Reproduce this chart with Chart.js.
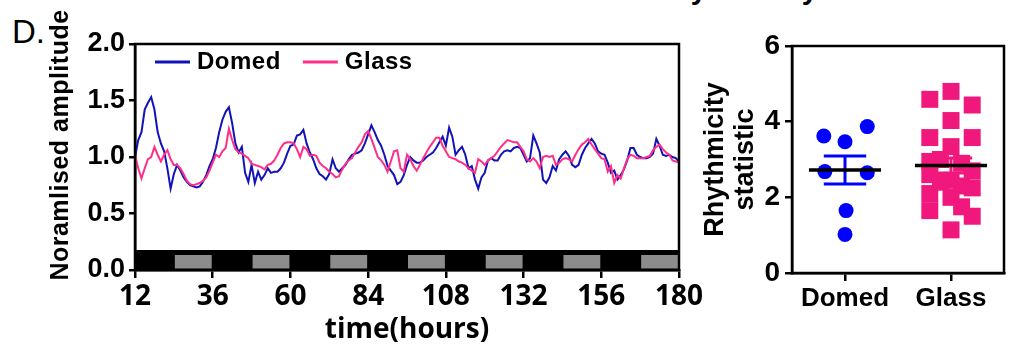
<!DOCTYPE html>
<html>
<head>
<meta charset="utf-8">
<script src="https://cdn.jsdelivr.net/npm/chart.js@4.4.1/dist/chart.umd.min.js"></script>
<style>
    html, body { margin: 0; padding: 0; background: #fff; }
    body { width: 1016px; height: 345px; position: relative; overflow: hidden; font-family: "Liberation Sans", Arial, sans-serif; }
    #left { position: absolute; left: 0; top: 0; width: 720px; height: 345px; }
    #right { position: absolute; left: 690px; top: 0; width: 326px; height: 345px; }
    .panel { position: absolute; left: 12px; top: 15px; font-size: 33px; line-height: 33px; }
    .cut { position: absolute; left: 652px; top: -25px; font-size: 29px; line-height: 29px; font-weight: bold; white-space: nowrap; }
</style>
</head>
<body>
<div class="panel">D.</div>
<div class="cut">Rhythmicity statistic</div>
<div id="left"><canvas id="ampChart"></canvas></div>
<div id="right"><canvas id="rhythmChart"></canvas></div>

<script>
// Dados - painel esquerdo (amplitude normalizada, uma leitura por hora a partir de 12h)
const startHour = 12;
const xTicks = [12, 36, 60, 84, 108, 132, 156, 180];
const seriesNames = ['Domed', 'Glass'];
const domedAmp = [
    1.00, 1.15, 1.22, 1.42, 1.48, 1.53, 1.42, 1.22, 1.12, 1.05, 0.90, 0.72,
    0.85, 0.93, 0.88, 0.82, 0.78, 0.75, 0.74, 0.73, 0.74, 0.78, 0.84, 0.92,
    0.98, 1.08, 1.22, 1.33, 1.40, 1.44, 1.30, 1.12, 1.04, 1.09, 0.86, 0.78,
    0.93, 0.77, 0.87, 0.80, 0.84, 0.90, 0.86, 0.87, 0.87, 0.90, 0.95, 1.03,
    1.10, 1.11, 1.19, 1.20, 1.24, 1.12, 1.04, 0.98, 0.90, 0.85, 0.83, 0.80,
    0.85, 0.98, 0.90, 0.87, 0.90, 0.93, 0.98, 1.02, 1.03, 1.04, 1.06, 1.12,
    1.20, 1.28, 1.22, 1.15, 1.10, 1.02, 0.92, 0.88, 0.84, 0.76, 0.78, 0.84,
    0.93, 1.00, 0.97, 0.95, 0.95, 0.97, 1.00, 1.02, 1.04, 1.08, 1.13, 1.18,
    1.10, 1.26, 1.18, 1.02, 1.06, 1.09, 1.02, 0.90, 0.92, 0.80, 0.72, 0.82,
    0.86, 0.97, 0.99, 0.97, 0.97, 1.02, 1.05, 1.06, 1.05, 1.08, 1.09, 1.08,
    1.02, 0.96, 0.99, 1.19, 1.12, 1.04, 0.80, 0.77, 0.82, 0.92, 0.88, 0.98,
    1.02, 1.05, 1.01, 0.93, 0.91, 0.93, 1.02, 1.08, 1.12, 1.16, 1.12, 1.05,
    1.03, 1.02, 0.95, 0.86, 0.88, 0.80, 0.84, 0.89, 0.97, 1.08, 1.08, 1.02,
    1.00, 0.99, 0.99, 1.00, 1.03, 1.16, 1.10, 1.02, 1.01, 1.02, 1.00, 0.99,
    0.96
];
const glassAmp = [
    1.02, 0.90, 0.81, 0.90, 0.98, 1.00, 1.09, 1.02, 0.96, 1.02, 1.06, 0.98,
    0.93, 0.93, 0.90, 0.85, 0.79, 0.76, 0.75, 0.76, 0.77, 0.79, 0.82, 0.88,
    0.95, 1.02, 1.00, 1.05, 1.08, 1.25, 1.15, 1.07, 1.04, 1.03, 1.01, 0.99,
    0.94, 0.93, 0.92, 0.91, 0.89, 0.93, 0.94, 0.97, 1.02, 1.08, 1.12, 1.13,
    1.13, 1.12, 1.07, 1.00, 1.09, 1.07, 1.01, 1.02, 1.01, 0.95, 0.92, 0.90,
    0.87, 0.85, 0.82, 0.83, 0.89, 0.94, 0.97, 0.99, 1.04, 1.09, 1.13, 1.20,
    1.23, 1.16, 1.08, 1.00, 0.97, 0.93, 0.87, 0.96, 1.05, 1.06, 0.90, 0.87,
    1.02, 0.98, 0.92, 0.88, 0.93, 0.99, 1.04, 1.09, 1.13, 1.17, 1.17, 1.10,
    1.05, 1.00, 0.99, 0.98, 0.96, 0.95, 0.93, 0.90, 0.88, 0.86, 0.98, 0.96,
    0.93, 0.97, 0.99, 1.01, 1.05, 1.09, 1.12, 1.15, 1.14, 1.13, 1.13, 1.09,
    1.05, 0.98, 0.96, 0.99, 0.96, 0.90, 1.00, 1.01, 1.00, 1.01, 0.93, 0.95,
    0.98, 0.99, 0.98, 0.96, 1.02, 1.07, 1.11, 1.13, 1.16, 1.11, 1.07, 1.03,
    0.99, 0.98, 0.87, 0.92, 0.77, 0.84, 0.81, 0.90, 0.98, 1.02, 1.01, 0.99,
    0.99, 0.99, 1.00, 1.01, 1.06, 1.09, 1.11, 1.07, 1.04, 1.02, 0.97, 0.96,
    0.95
];
// fases de luz (cinza) na barra claro/escuro, em horas
const lightPhases = [[24, 36], [48, 60], [72, 84], [96, 108], [120, 132], [144, 156], [168, 180]];

// Dados - painel direito (estatística de ritmicidade)
const groups = ['Domed', 'Glass'];
const domedStat = [3.62, 3.47, 3.87, 2.68, 2.65, 1.65, 1.02];
const domedJitter = [-0.2, 0, 0.21, -0.19, 0.21, 0.01, 0];
const glassStat = [4.59, 3.58, 2.95, 2.60, 2.10, 1.65, 4.80, 4.03, 3.34, 2.45, 2.00, 1.14, 4.44, 3.58, 2.70, 2.25, 1.50, 3.00, 2.40, 2.90, 2.30, 1.75];
const glassJitter = [-0.2, -0.2, -0.2, -0.2, -0.2, -0.2, 0, 0, 0, 0, 0, 0, 0.2, 0.2, 0.2, 0.2, 0.2, -0.1, -0.1, 0.1, 0.1, 0.1];
const groupMean = [2.72, 2.84];
const groupSem = [0.37, 0.20];
const statTicks = [0, 2, 4, 6];

// Estilos
const ARIAL = '"Liberation Sans", Arial, sans-serif';
const OPEN = '"Open Sans", "Liberation Sans", sans-serif';
const BLUE_LINE = '#1212b8';
const PINK_LINE = '#ff2f88';
const BLUE_DOT = '#0000ff';
const PINK_DOT = '#f0187c';

const toPoints = arr => arr.map((v, i) => ({ x: startHour + i, y: v }));

// barra claro/escuro abaixo das curvas
const lightDarkBar = {
    id: 'lightDarkBar',
    beforeDatasetsDraw(chart) {
        const { ctx, chartArea: a, scales: { x, y } } = chart;
        ctx.save();
        ctx.fillStyle = '#000';
        const top = y.getPixelForValue(0.177);
        ctx.fillRect(a.left, top, a.right - a.left, a.bottom - top);
        ctx.fillStyle = '#8c8c8c';
        const gTop = y.getPixelForValue(0.133);
        const gBot = y.getPixelForValue(0.012);
        lightPhases.forEach(([s, e]) => {
            const x0 = x.getPixelForValue(s) + 1;
            const x1 = x.getPixelForValue(e) - 1;
            ctx.fillRect(x0, gTop, x1 - x0, gBot - gTop);
        });
        ctx.restore();
    }
};

// moldura (topo e direita)
const frame = {
    id: 'frame',
    afterDraw(chart) {
        const { ctx, chartArea: a } = chart;
        ctx.save();
        ctx.strokeStyle = '#000';
        ctx.lineWidth = 2.5;
        ctx.strokeRect(a.left, a.top, a.right - a.left, a.bottom - a.top);
        ctx.restore();
    }
};

// legenda desenhada dentro da área do gráfico
const ampLegend = {
    id: 'ampLegend',
    afterDraw(chart) {
        const { ctx, chartArea: a } = chart;
        ctx.save();
        ctx.font = 'bold 24px ' + ARIAL;
        ctx.letterSpacing = '0.5px';
        ctx.textBaseline = 'middle';
        let xPos = a.left + 20;
        const yPos = a.top + 18;
        chart.data.datasets.forEach(ds => {
            ctx.strokeStyle = ds.borderColor;
            ctx.lineWidth = 3;
            ctx.beginPath();
            ctx.moveTo(xPos, yPos);
            ctx.lineTo(xPos + 35, yPos);
            ctx.stroke();
            ctx.fillStyle = '#000';
            ctx.fillText(ds.label, xPos + 42, yPos);
            xPos += 42 + ctx.measureText(ds.label).width + 22;
        });
        ctx.restore();
    }
};

// título do eixo y (esquerdo)
const ampYTitle = {
    id: 'ampYTitle',
    afterDraw(chart) {
        const { ctx } = chart;
        ctx.save();
        ctx.translate(61, 145);
        ctx.rotate(-Math.PI / 2);
        ctx.font = 'bold 25px ' + ARIAL;
        ctx.letterSpacing = '0.5px';
        ctx.textAlign = 'center';
        ctx.textBaseline = 'middle';
        ctx.fillStyle = '#000';
        ctx.fillText('Noramlised amplitude', 0, 0);
        ctx.restore();
    }
};

// média e erro padrão
const meanSem = {
    id: 'meanSem',
    afterDatasetsDraw(chart) {
        const { ctx, scales: { x, y } } = chart;
        const colors = [BLUE_DOT, PINK_DOT];
        ctx.save();
        groups.forEach((g, i) => {
            const c = i + 1;
            const yHi = y.getPixelForValue(groupMean[i] + groupSem[i]);
            const yLo = y.getPixelForValue(groupMean[i] - groupSem[i]);
            const cx = x.getPixelForValue(c);
            ctx.strokeStyle = colors[i];
            ctx.lineWidth = 3;
            ctx.beginPath();
            ctx.moveTo(cx, yHi); ctx.lineTo(cx, yLo);
            ctx.moveTo(x.getPixelForValue(c - 0.2), yHi); ctx.lineTo(x.getPixelForValue(c + 0.2), yHi);
            ctx.moveTo(x.getPixelForValue(c - 0.2), yLo); ctx.lineTo(x.getPixelForValue(c + 0.2), yLo);
            ctx.stroke();
            const ym = y.getPixelForValue(groupMean[i]);
            ctx.strokeStyle = '#000';
            ctx.lineWidth = 3.5;
            ctx.beginPath();
            ctx.moveTo(x.getPixelForValue(c - 0.34), ym);
            ctx.lineTo(x.getPixelForValue(c + 0.34), ym);
            ctx.stroke();
        });
        ctx.restore();
    }
};

const axisGrid = len => ({ drawOnChartArea: false, tickLength: len, color: '#000', lineWidth: 2.5 });
const axisBorder = { color: '#000', width: 2.5 };

// Gráfico de amplitude
new Chart(document.getElementById('ampChart'), {
    type: 'line',
    data: {
        datasets: [
            { label: seriesNames[0], data: toPoints(domedAmp), borderColor: BLUE_LINE, borderWidth: 2, pointRadius: 0, tension: 0, order: 1 },
            { label: seriesNames[1], data: toPoints(glassAmp), borderColor: PINK_LINE, borderWidth: 2, pointRadius: 0, tension: 0, order: 0 }
        ]
    },
    options: {
        responsive: true,
        maintainAspectRatio: false,
        animation: false,
        layout: { padding: { left: 0, top: 44, right: 41, bottom: 0 } },
        plugins: { legend: { display: false }, tooltip: { enabled: false } },
        scales: {
            x: {
                type: 'linear', min: 12, max: 180,
                afterBuildTicks: s => { s.ticks = xTicks.map(v => ({ value: v })); },
                afterFit: s => { s.height = 75; },
                ticks: { font: { family: OPEN, size: 28, weight: 'bold' }, color: '#000', padding: 2, maxRotation: 0, autoSkip: false },
                grid: axisGrid(8),
                border: axisBorder,
                title: { display: true, text: 'time(hours)', font: { family: OPEN, size: 28, weight: 'bold' }, color: '#000', padding: { top: 0, bottom: -2 } }
            },
            y: {
                min: 0, max: 2,
                afterFit: s => { s.width = 135; },
                ticks: { stepSize: 0.5, callback: v => v.toFixed(1), font: { family: ARIAL, size: 27, weight: 'bold' }, color: '#000', padding: 4 },
                grid: axisGrid(6),
                border: axisBorder
            }
        }
    },
    plugins: [lightDarkBar, frame, ampLegend, ampYTitle]
});

// Gráfico de ritmicidade
new Chart(document.getElementById('rhythmChart'), {
    type: 'scatter',
    data: {
        datasets: [
            { label: groups[0], data: domedStat.map((v, i) => ({ x: 1 + domedJitter[i], y: v })), pointStyle: 'circle', pointRadius: 7.5, backgroundColor: BLUE_DOT, borderWidth: 0 },
            { label: groups[1], data: glassStat.map((v, i) => ({ x: 2 + glassJitter[i], y: v })), pointStyle: 'rect', pointRadius: 12, backgroundColor: PINK_DOT, borderWidth: 0 }
        ]
    },
    options: {
        responsive: true,
        maintainAspectRatio: false,
        animation: false,
        layout: { padding: { left: 0, top: 46, right: 2, bottom: 0 } },
        plugins: { legend: { display: false }, tooltip: { enabled: false } },
        scales: {
            x: {
                type: 'linear', min: 0.5, max: 2.5,
                afterBuildTicks: s => { s.ticks = groups.map((g, i) => ({ value: i + 1 })); },
                afterFit: s => { s.height = 72; },
                ticks: { callback: v => groups[v - 1], font: { family: ARIAL, size: 26, weight: 'bold' }, color: '#000', padding: 2, maxRotation: 0, autoSkip: false },
                grid: axisGrid(8),
                border: axisBorder
            },
            y: {
                min: 0, max: 6,
                afterBuildTicks: s => { s.ticks = statTicks.map(v => ({ value: v })); },
                afterFit: s => { s.width = 102; },
                ticks: { font: { family: ARIAL, size: 28, weight: 'bold' }, color: '#000', padding: 5 },
                grid: axisGrid(7),
                border: axisBorder,
                title: { display: true, text: ['Rhythmicity', 'statistic'], font: { family: ARIAL, size: 27, weight: 'bold', lineHeight: 1.1 }, color: '#000', padding: { top: 11, bottom: 0 } }
            }
        }
    },
    plugins: [meanSem, frame]
});
</script>
</body>
</html>
